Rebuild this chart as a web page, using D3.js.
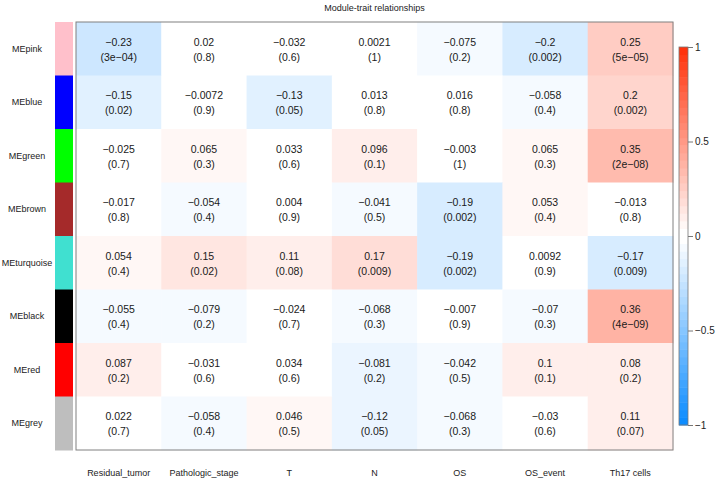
<!DOCTYPE html>
<html>
<head>
<meta charset="utf-8">
<script src="https://cdn.jsdelivr.net/npm/d3@7"></script>
<style>
  html, body { margin: 0; padding: 0; background: #fff; }
  svg { display: block; font-family: "Liberation Sans", Arial, sans-serif; }
</style>
</head>
<body>
<svg id="chart" width="720" height="495"></svg>
<script>
// ---- data ----
const modules = ["MEpink", "MEblue", "MEgreen", "MEbrown", "MEturquoise", "MEblack", "MEred", "MEgrey"];
const moduleColors = ["#FFC0CB", "#0000FF", "#00FF00", "#A52A2A", "#40E0D0", "#000000", "#FF0000", "#BEBEBE"];
const traits = ["Residual_tumor", "Pathologic_stage", "T", "N", "OS", "OS_event", "Th17 cells"];
const corPink = [-0.23, 0.02, -0.032, 0.0021, -0.075, -0.2, 0.25];
const pPink = ["3e-04", "0.8", "0.6", "1", "0.2", "0.002", "5e-05"];
const corBlue = [-0.15, -0.0072, -0.13, 0.013, 0.016, -0.058, 0.2];
const pBlue = ["0.02", "0.9", "0.05", "0.8", "0.8", "0.4", "0.002"];
const corGreen = [-0.025, 0.065, 0.033, 0.096, -0.003, 0.065, 0.35];
const pGreen = ["0.7", "0.3", "0.6", "0.1", "1", "0.3", "2e-08"];
const corBrown = [-0.017, -0.054, 0.004, -0.041, -0.19, 0.053, -0.013];
const pBrown = ["0.8", "0.4", "0.9", "0.5", "0.002", "0.4", "0.8"];
const corTurquoise = [0.054, 0.15, 0.11, 0.17, -0.19, 0.0092, -0.17];
const pTurquoise = ["0.4", "0.02", "0.08", "0.009", "0.002", "0.9", "0.009"];
const corBlack = [-0.055, -0.079, -0.024, -0.068, -0.007, -0.07, 0.36];
const pBlack = ["0.4", "0.2", "0.7", "0.3", "0.9", "0.3", "4e-09"];
const corRed = [0.087, -0.031, 0.034, -0.081, -0.042, 0.1, 0.08];
const pRed = ["0.2", "0.6", "0.6", "0.2", "0.5", "0.1", "0.2"];
const corGrey = [0.022, -0.058, 0.046, -0.12, -0.068, -0.03, 0.11];
const pGrey = ["0.7", "0.4", "0.5", "0.05", "0.3", "0.6", "0.07"];
const colorbarTicks = [-1, -0.5, 0, 0.5, 1];
const title = "Module-trait relationships";

const corRows = [corPink, corBlue, corGreen, corBrown, corTurquoise, corBlack, corRed, corGrey];
const pRows = [pPink, pBlue, pGreen, pBrown, pTurquoise, pBlack, pRed, pGrey];

const cells = [];
modules.forEach((m, i) => traits.forEach((t, j) => {
  cells.push({ module: m, trait: t, r: corRows[i][j], p: pRows[i][j] });
}));

// ---- scales ----
const svg = d3.select("#chart");
const x = d3.scaleBand().domain(traits).range([76, 673]);
const y = d3.scaleBand().domain(modules).range([22, 450]);
const modColor = d3.scaleOrdinal().domain(modules).range(moduleColors);

const nBins = 50;
const bin = d3.scaleQuantize().domain([-1, 1]).range(d3.range(nBins));
const half = nBins / 2;
const binValue = k => k >= half ? (k - half) / (half - 1) : -((half - 1 - k) / (half - 1));
const ramp = d3.scaleLinear().domain([-1, 0, 1])
  .range(["rgb(13,140,255)", "#ffffff", "rgb(255,51,13)"])
  .interpolate(d3.interpolateRgb);
const fill = v => ramp(binValue(bin(v)));

const minus = s => String(s).replace(/-/g, "\u2212");

// ---- title ----
svg.append("text")
  .attr("x", (x.range()[0] + x.range()[1]) / 2)
  .attr("y", 11)
  .attr("text-anchor", "middle")
  .attr("font-size", 9)
  .attr("fill", "#222")
  .text(title);

// ---- module colour strip ----
svg.append("g").selectAll("rect").data(modules).join("rect")
  .attr("x", 55).attr("width", 18)
  .attr("y", d => y(d)).attr("height", y.bandwidth() + 0.5)
  .attr("fill", d => modColor(d));

svg.append("g").selectAll("text").data(modules).join("text")
  .attr("x", 27)
  .attr("y", d => y(d) + y.bandwidth() / 2)
  .attr("dy", "0.35em")
  .attr("text-anchor", "middle")
  .attr("font-size", 9)
  .attr("fill", "#222")
  .text(d => d);

// ---- cells ----
const cg = svg.append("g");
cg.selectAll("rect").data(cells).join("rect")
  .attr("x", d => x(d.trait)).attr("y", d => y(d.module))
  .attr("width", x.bandwidth() + 0.5).attr("height", y.bandwidth() + 0.5)
  .attr("fill", d => fill(d.r));

const tg = svg.append("g").attr("font-size", 10.5).attr("fill", "#1a1a1a").attr("text-anchor", "middle");
const cellText = tg.selectAll("text").data(cells).join("text")
  .attr("x", d => x(d.trait) + x.bandwidth() / 2)
  .attr("y", d => y(d.module) + y.bandwidth() / 2);
cellText.append("tspan")
  .attr("x", d => x(d.trait) + x.bandwidth() / 2)
  .attr("dy", "-0.3em")
  .text(d => minus(d.r));
cellText.append("tspan")
  .attr("x", d => x(d.trait) + x.bandwidth() / 2)
  .attr("dy", "1.45em")
  .text(d => "(" + minus(d.p) + ")");

// heatmap frame
svg.append("rect")
  .attr("x", x.range()[0]).attr("y", y.range()[0])
  .attr("width", x.range()[1] - x.range()[0]).attr("height", y.range()[1] - y.range()[0])
  .attr("fill", "none").attr("stroke", "#808080").attr("stroke-width", 1);

// column labels
svg.append("g").selectAll("text").data(traits).join("text")
  .attr("x", d => x(d) + x.bandwidth() / 2)
  .attr("y", 473)
  .attr("dy", "0.35em")
  .attr("text-anchor", "middle")
  .attr("font-size", 9)
  .attr("fill", "#222")
  .text(d => d);

// ---- colour bar ----
const cb = d3.scaleLinear().domain([-1, 1]).range([425, 47]);
const barX = 679, barW = 9;
svg.append("g").selectAll("rect").data(d3.range(nBins)).join("rect")
  .attr("x", barX).attr("width", barW)
  .attr("y", k => cb(-1 + (k + 1) * 2 / nBins))
  .attr("height", k => cb(-1 + k * 2 / nBins) - cb(-1 + (k + 1) * 2 / nBins) + 0.5)
  .attr("fill", k => ramp(binValue(k)));
svg.append("rect")
  .attr("x", barX).attr("y", cb(1)).attr("width", barW).attr("height", cb(-1) - cb(1))
  .attr("fill", "none").attr("stroke", "#777").attr("stroke-width", 0.8);

const axis = d3.axisRight(cb).tickValues(colorbarTicks).tickSize(5).tickPadding(2).tickFormat(d3.format(""));
const ax = svg.append("g").attr("transform", `translate(${barX + barW},0)`).call(axis);
ax.select(".domain").remove();
ax.selectAll(".tick line").attr("stroke", "#777");
ax.selectAll(".tick text").attr("font-size", 10).attr("fill", "#222")
  .attr("font-family", "'Liberation Sans', Arial, sans-serif");
</script>
</body>
</html>
